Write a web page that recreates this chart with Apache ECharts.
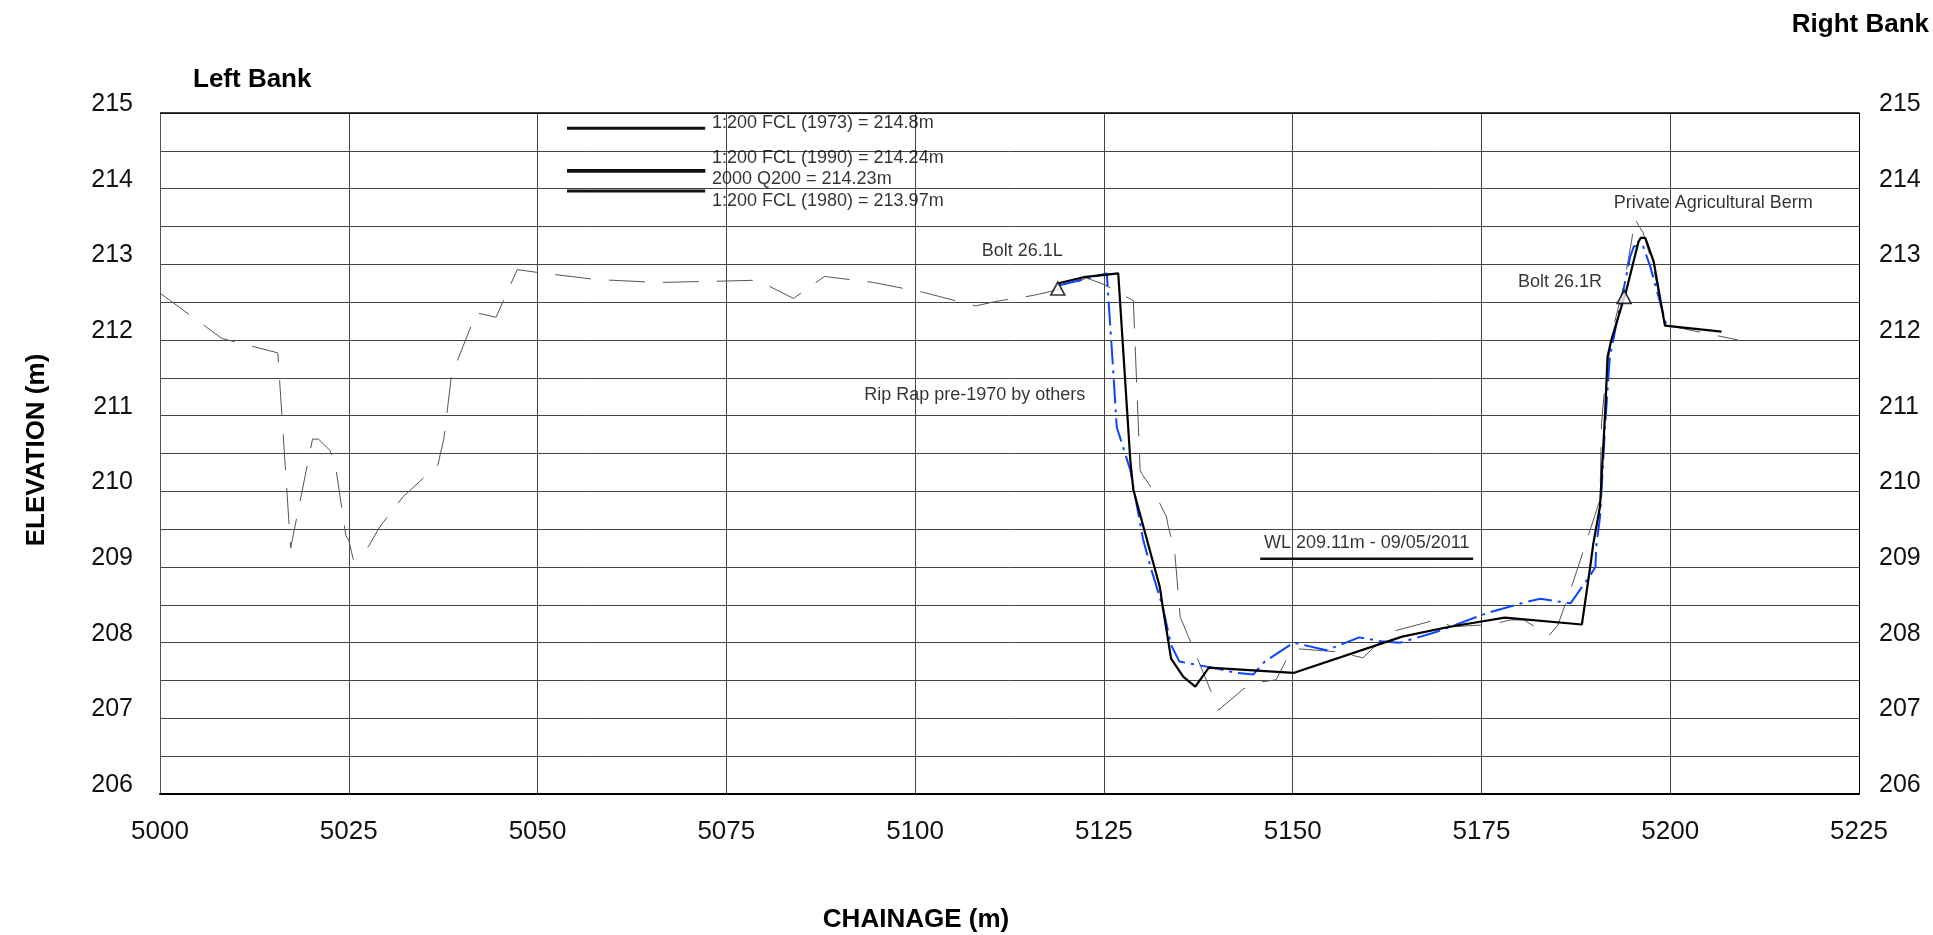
<!DOCTYPE html>
<html>
<head>
<meta charset="utf-8">
<script src="https://cdn.jsdelivr.net/npm/echarts@6/dist/echarts.min.js"></script>
<style>
html,body{margin:0;padding:0;background:#fff;}
#chart{width:1933px;height:935px;}
</style>
</head>
<body>
<div id="chart"></div>
<script>
// ---------- DATA ----------
const xTickLabels = [5000, 5025, 5050, 5075, 5100, 5125, 5150, 5175, 5200, 5225];
const yTickLabels = [206, 207, 208, 209, 210, 211, 212, 213, 214, 215];

// Older survey (thin grey long-dash)
const surveyOld = [
  [5000.0,212.62],[5008.2,212.02],[5015.6,211.83],[5017.3,209.25],[5020.2,210.69],[5021.0,210.69],
  [5022.5,210.54],[5023.2,210.37],[5024.6,209.42],[5025.0,209.35],[5025.6,209.10],[5027.6,209.27],
  [5029.1,209.53],[5032.2,209.93],[5036.8,210.35],[5037.6,210.70],[5038.6,211.53],[5041.9,212.36],
  [5044.5,212.30],[5047.3,212.93],[5050.2,212.89],[5057.7,212.80],[5066.0,212.76],[5075.1,212.78],
  [5079.0,212.79],[5080.1,212.74],[5083.9,212.55],[5088.0,212.84],[5094.5,212.76],[5101.1,212.63],
  [5108.0,212.45],[5110.7,212.51],[5115.7,212.59],[5119.6,212.68],[5122.7,212.82],[5125.1,212.73],
  [5128.9,212.52],[5129.8,210.28],[5130.1,210.22],[5131.6,210.00],[5133.3,209.66],[5133.5,209.55],
  [5134.4,209.18],[5135.1,208.34],[5136.2,208.08],[5140.2,207.11],[5143.5,207.39],[5145.8,207.48],
  [5147.8,207.51],[5149.2,207.78],[5150.5,207.92],[5155.8,207.88],[5159.3,207.80],[5162.9,208.14],
  [5169.3,208.31],[5171.0,208.21],[5176.3,208.24],[5178.8,208.30],[5180.6,208.30],[5184.0,208.10],
  [5185.1,208.23],[5186.8,208.70],[5187.6,208.94],[5189.1,209.40],[5190.7,209.89],[5190.9,210.90],
  [5191.3,211.35],[5192.3,212.10],[5193.8,212.70],[5194.9,213.32],[5195.3,213.60],[5196.4,213.42],
  [5197.8,212.95],[5199.3,212.20],[5209.0,212.00]
];

// Intermediate survey (blue dash-dot)
const surveyMid = [
  [5119.0,212.72],[5125.4,212.88],[5125.5,212.70],[5126.2,211.65],[5126.7,210.85],[5128.5,210.28],
  [5130.2,209.36],[5131.3,208.96],[5132.8,208.47],[5133.9,207.97],[5135.0,207.75],[5137.7,207.70],
  [5139.9,207.66],[5142.6,207.60],[5144.8,207.58],[5146.3,207.75],[5150.1,208.00],[5154.5,207.90],
  [5158.8,208.07],[5161.6,208.02],[5164.2,208.00],[5169.0,208.14],[5175.7,208.39],[5180.6,208.53],
  [5182.8,208.58],[5186.8,208.52],[5189.4,208.89],[5190.1,209.00],[5190.2,209.27],[5190.7,209.66],
  [5191.4,210.90],[5192.0,211.78],[5192.9,212.22],[5194.7,213.10],[5195.2,213.24],[5196.4,213.24],
  [5197.3,212.99],[5199.5,212.19]
];

// Latest survey (black solid)
const surveyNew = [
  [5119.0,212.75],[5122.3,212.83],[5126.9,212.88],[5128.5,210.41],[5128.9,210.02],[5132.4,208.74],
  [5132.8,208.47],[5133.9,207.79],[5135.5,207.55],[5137.1,207.42],[5138.9,207.67],[5150.1,207.60],
  [5164.5,208.08],[5170.8,208.21],[5178.1,208.33],[5188.3,208.24],[5189.4,209.00],[5189.8,209.30],
  [5190.7,209.80],[5191.4,211.08],[5191.7,211.78],[5192.2,212.00],[5194.2,212.66],[5195.8,213.30],
  [5196.1,213.35],[5196.7,213.35],[5197.8,213.04],[5199.3,212.19],[5206.8,212.11]
];

// Flood levels (elevation) and the chainage span of their marker lines
const floodLevels = [214.8, 214.24, 214.23, 213.97];
const floodSpan = [5053.9, 5072.2];

// Water level line
const waterLevel = 209.11;
const waterSpan = [5145.7, 5173.9];

// Survey bolts
const bolts = [[5118.9, 212.68], [5193.9, 212.57]];

// Text annotations: [text, chainage, elevation, align]
const annotations = [
  ['1:200 FCL (1973) = 214.8m', 5073.1, 214.87, 'left'],
  ['1:200 FCL (1990) = 214.24m', 5073.1, 214.40, 'left'],
  ['2000 Q200 = 214.23m', 5073.1, 214.13, 'left'],
  ['1:200 FCL (1980) = 213.97m', 5073.1, 213.84, 'left'],
  ['Bolt 26.1L', 5114.2, 213.17, 'center'],
  ['Rip Rap pre-1970 by others', 5107.9, 211.27, 'center'],
  ['Bolt 26.1R', 5185.4, 212.76, 'center'],
  ['Private Agricultural Berm', 5205.7, 213.81, 'center'],
  ['WL 209.11m - 09/05/2011', 5159.8, 209.32, 'center']
];

// ---------- CHART ----------
const FONT = '"Liberation Sans", Arial, sans-serif';
const chart = echarts.init(document.getElementById('chart'), null, {renderer: 'canvas'});

const series = [
  {
    type: 'line', data: surveyOld, showSymbol: false, z: 2, silent: true,
    lineStyle: {color: '#555', width: 1, type: [36, 18]}
  },
  {
    type: 'line', data: surveyMid, showSymbol: false, z: 3, silent: true,
    lineStyle: {color: '#0b45ff', width: 2, type: [24, 6, 3, 6]}
  },
  {
    type: 'line', data: surveyNew, showSymbol: false, z: 4, silent: true,
    lineStyle: {color: '#000', width: 2.2}
  }
];

floodLevels.forEach(function (lv) {
  series.push({
    type: 'line', showSymbol: false, z: 4, silent: true,
    data: [[floodSpan[0], lv], [floodSpan[1], lv]],
    lineStyle: {color: '#111', width: 3}
  });
});

series.push({
  type: 'line', showSymbol: false, z: 4, silent: true,
  data: [[waterSpan[0], waterLevel], [waterSpan[1], waterLevel]],
  lineStyle: {color: '#111', width: 2.5}
});

series.push({
  type: 'scatter', data: bolts, symbol: 'triangle', symbolSize: [14, 13], z: 6, silent: true,
  itemStyle: {color: '#fff', borderColor: '#000', borderWidth: 1.6}
});

series.push({
  type: 'scatter', symbolSize: 0, z: 7, silent: true,
  data: annotations.map(function (a) {
    return {
      value: [a[1], a[2]],
      label: {
        show: true, formatter: a[0], position: [0, 0], align: a[3], verticalAlign: 'middle',
        color: '#000', fontSize: 18, fontFamily: FONT
      }
    };
  })
});

const yLabel = function (margin) {
  return {
    fontSize: 25, fontFamily: FONT, color: '#111', margin: margin,
    verticalAlign: 'bottom', lineHeight: 18,
    formatter: function (v) { return yTickLabels.indexOf(v) >= 0 ? String(v) : ''; }
  };
};

const option = {
  animation: false,
  backgroundColor: '#fff',
  grid: {left: 160, right: 74, top: 113, bottom: 141, containLabel: false},
  xAxis: {
    type: 'value', min: 5000, max: 5225, interval: 25,
    axisLine: {show: true, lineStyle: {color: '#000', width: 2}},
    axisTick: {show: false},
    splitLine: {show: true, lineStyle: {color: '#444', width: 1}},
    axisLabel: {
      fontSize: 26, fontFamily: FONT, color: '#111', margin: 25,
      formatter: function (v) { return xTickLabels.indexOf(v) >= 0 ? String(v) : ''; }
    }
  },
  yAxis: [
    {
      type: 'value', min: 206, max: 215, interval: 0.5, position: 'left',
      axisLine: {show: true, lineStyle: {color: '#555', width: 1}},
      axisTick: {show: false},
      splitLine: {show: true, lineStyle: {color: '#444', width: 1}},
      axisLabel: yLabel(27)
    },
    {
      type: 'value', min: 206, max: 215, interval: 0.5, position: 'right',
      axisLine: {show: true, lineStyle: {color: '#000', width: 1}},
      axisTick: {show: false},
      splitLine: {show: false},
      axisLabel: yLabel(20)
    }
  ],
  series: series,
  graphic: [
    {type: 'line', z: 10, shape: {x1: 160, y1: 113, x2: 1859, y2: 113}, style: {stroke: '#000', lineWidth: 1.5}},
    {type: 'text', left: 193, top: 67, style: {text: 'Left Bank', font: 'bold 26px ' + FONT, fill: '#000'}},
    {type: 'text', right: 4, top: 12, style: {text: 'Right Bank', font: 'bold 26px ' + FONT, fill: '#000'}},
    {type: 'text', x: 916, y: 920, style: {text: 'CHAINAGE (m)', font: 'bold 26px ' + FONT, fill: '#000', align: 'center', verticalAlign: 'middle'}},
    {type: 'text', x: 37, y: 450, rotation: Math.PI / 2, style: {text: 'ELEVATION (m)', font: 'bold 26px ' + FONT, fill: '#000', align: 'center', verticalAlign: 'middle'}}
  ]
};

chart.setOption(option);
</script>
</body>
</html>
